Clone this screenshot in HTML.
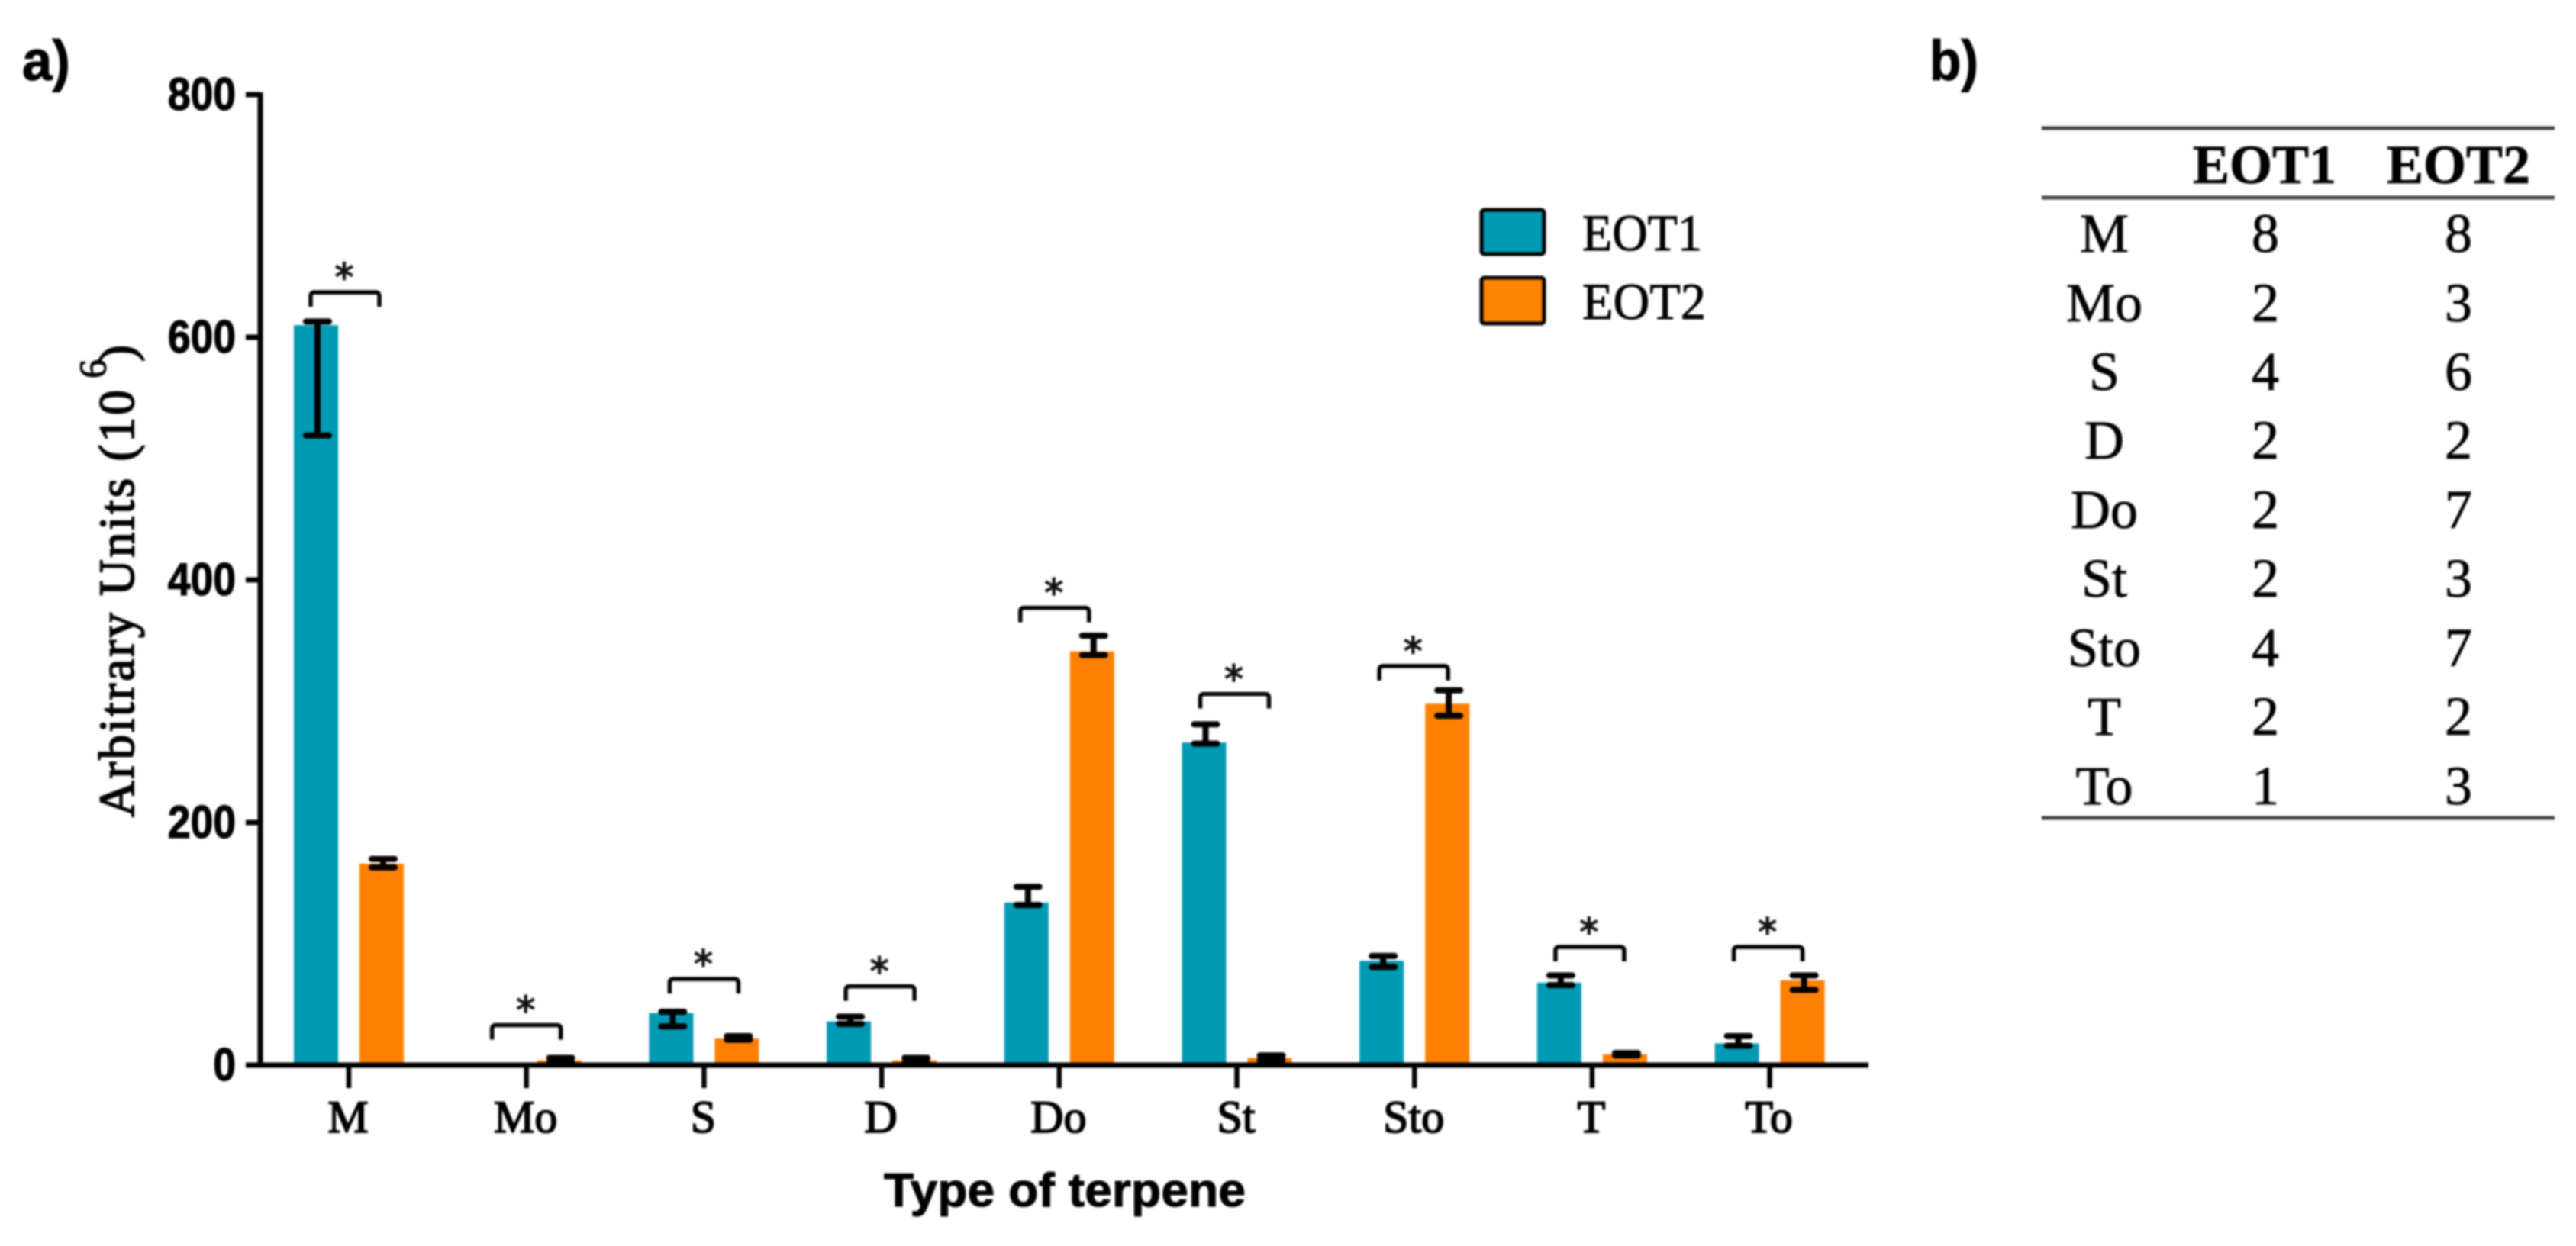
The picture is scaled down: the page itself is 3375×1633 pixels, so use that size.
<!DOCTYPE html>
<html lang="en">
<head>
<meta charset="utf-8">
<title>Terpene types by EOT</title>
<style>
html,body{margin:0;padding:0;background:#fff;}
body{width:3375px;height:1633px;overflow:hidden;}
svg{display:block;filter:blur(1.2px);}
.serif{font-family:"Liberation Serif",serif;fill:#000;}
.sans{font-family:"Liberation Sans",sans-serif;fill:#000;}
</style>
</head>
<body>
<svg id="chart" xmlns="http://www.w3.org/2000/svg" width="3375" height="1633" viewBox="0 0 3375 1633">
  <rect x="0" y="0" width="3375" height="1633" fill="#fff"/>
  <text class="sans" x="29" y="105" font-size="74" font-weight="700" stroke="#000" stroke-width="1" textLength="63" lengthAdjust="spacingAndGlyphs">a)</text>
  <text class="sans" x="2528" y="105" font-size="74" font-weight="700" stroke="#000" stroke-width="1" textLength="64" lengthAdjust="spacingAndGlyphs">b)</text>

  <g id="plot"></g>

  <g transform="translate(175,1071) rotate(-90)">
    <text class="serif" x="0" y="0" font-size="66" stroke="#000" stroke-width="1.8" textLength="560" lengthAdjust="spacing">Arbitrary Units (10</text>
    <text class="serif" x="575" y="-37" font-size="50" stroke="#000" stroke-width="1.2">6</text>
    <text class="serif" x="597" y="0" font-size="66" stroke="#000" stroke-width="1.8">)</text>
  </g>
  <text class="sans" x="1158" y="1581" font-size="62" font-weight="700" stroke="#000" stroke-width="1" textLength="474" lengthAdjust="spacingAndGlyphs">Type of terpene</text>

  <g>
    <g>
      <rect x="1941" y="275" width="82" height="58" rx="4" fill="#009ab5" stroke="#000" stroke-width="5"/>
      <text class="serif" x="2073" y="328" font-size="68" stroke="#000" stroke-width="1" textLength="157" lengthAdjust="spacingAndGlyphs">EOT1</text>
    </g>
    <g>
      <rect x="1941" y="364" width="82" height="60" rx="4" fill="#ff8400" stroke="#000" stroke-width="5"/>
      <text class="serif" x="2073" y="418" font-size="68" stroke="#000" stroke-width="1" textLength="162" lengthAdjust="spacingAndGlyphs">EOT2</text>
    </g>
  </g>

  <g id="table" class="serif" font-size="72" text-anchor="middle" stroke="#000" stroke-width="0.8">
    <line x1="2675" y1="168" x2="3347" y2="168" stroke="#444" stroke-width="5"/>
    <line x1="2675" y1="259" x2="3347" y2="259" stroke="#444" stroke-width="5"/>
    <line x1="2675" y1="1072" x2="3347" y2="1072" stroke="#444" stroke-width="5"/>
    <text x="2967" y="240" font-weight="700">EOT1</text>
    <text x="3221" y="240" font-weight="700">EOT2</text>
    <g><text x="2757" y="330">M</text><text x="2968" y="330">8</text><text x="3221" y="330">8</text></g>
    <g><text x="2757" y="421">Mo</text><text x="2968" y="421">2</text><text x="3221" y="421">3</text></g>
    <g><text x="2757" y="511">S</text><text x="2968" y="511">4</text><text x="3221" y="511">6</text></g>
    <g><text x="2757" y="601">D</text><text x="2968" y="601">2</text><text x="3221" y="601">2</text></g>
    <g><text x="2757" y="692">Do</text><text x="2968" y="692">2</text><text x="3221" y="692">7</text></g>
    <g><text x="2757" y="782">St</text><text x="2968" y="782">2</text><text x="3221" y="782">3</text></g>
    <g><text x="2757" y="873">Sto</text><text x="2968" y="873">4</text><text x="3221" y="873">7</text></g>
    <g><text x="2757" y="963">T</text><text x="2968" y="963">2</text><text x="3221" y="963">2</text></g>
    <g><text x="2757" y="1054">To</text><text x="2968" y="1054">1</text><text x="3221" y="1054">3</text></g>
  </g>
</svg>
<script>
const categories = ["M","Mo","S","D","Do","St","Sto","T","To"];
const eot1Values = [610,0,43,36,134,266,86,68,18];
const eot2Values = [166,4,22,4,341,6,298,9,70];
const eot1ErrHigh = [613,0,44,40,147,281,90,74,24];
const eot1ErrLow = [519,0,32,34,132,265,81,66,16];
const eot2ErrHigh = [170,6,24,6,354,8,309,10,74];
const eot2ErrLow = [163,2,21,2,338,4,288,8,62];
const bracketLevels = [637,33,71,65,377,306,329,97.5,97.5];
const yTickLabels = [0,200,400,600,800];

const NS = "http://www.w3.org/2000/svg";
const plot = document.getElementById("plot");

function xCenter(i){ return 457 + 232.7 * i; }
function yScale(v){ return 1396 - 1.59 * v; }

function make(tag, attrs, parent){
  const el = document.createElementNS(NS, tag);
  for (const k in attrs) el.setAttribute(k, attrs[k]);
  (parent || plot).appendChild(el);
  return el;
}

function drawBars(values, high, low, offset, color, key){
  values.forEach(function(v, i){
    const cx = xCenter(i) + offset;
    if (v > 0) {
      const bar = make("rect", {x: cx - 29, y: yScale(v), width: 58, height: yScale(0) - yScale(v), fill: color});
      
      
    }
    if (high[i] > low[i]) {
      const ex = cx + 2;
      const err = make("path", {
        d: "M" + ex + " " + yScale(high[i]) + "V" + yScale(low[i]) +
           "M" + (ex - 15) + " " + yScale(high[i]) + "H" + (ex + 15) +
           "M" + (ex - 15) + " " + yScale(low[i]) + "H" + (ex + 15),
        stroke: "#000", "stroke-width": 8, fill: "none", "stroke-linecap": "round"
      });
      
      
    }
  });
}

function drawBrackets(){
  const nudge = {M:-5, Mo:0, S:0, D:-2, Do:-6, St:-3, Sto:-1, T:-3, To:-2};
  bracketLevels.forEach(function(level, i){
    const c = xCenter(i) + nudge[categories[i]];
    const top = yScale(level);
    const br = make("path", {
      d: "M" + (c - 45) + " " + (top + 19) + "V" + (top + 5) + "Q" + (c - 45) + " " + top + " " + (c - 40) + " " + top +
         "H" + (c + 40) + "Q" + (c + 45) + " " + top + " " + (c + 45) + " " + (top + 5) + "V" + (top + 19),
      stroke: "#000", "stroke-width": 5.5, fill: "none"
    });
    
    
    const star = make("text", {x: c - 1, y: top - 2, "text-anchor": "middle", "font-size": 50, fill: "#111",
      stroke: "#111", "stroke-width": 1.5, "font-family": '"DejaVu Sans", sans-serif'});
    star.textContent = "*";
    
    
  });
}

function drawAxes(){
  const yAxis = make("line", {x1: 341, y1: yScale(800) - 3, x2: 341, y2: yScale(0) + 3, stroke: "#000", "stroke-width": 7});
  
  
  const xAxis = make("line", {x1: 322, y1: yScale(0), x2: 2448, y2: yScale(0), stroke: "#000", "stroke-width": 7});
  
  

  yTickLabels.forEach(function(t){
    const tick = make("line", {x1: 322, y1: yScale(t), x2: 341, y2: yScale(t), stroke: "#000", "stroke-width": 7});
    
    
    const label = make("text", {
      transform: "translate(309," + (yScale(t) + 20) + ") scale(0.89,1)",
      "text-anchor": "end", "font-size": 60, "font-weight": 700, class: "sans",
      stroke: "#000", "stroke-width": 1.2
    });
    label.textContent = t;
    
    
  });

  categories.forEach(function(c, i){
    const tick = make("line", {x1: xCenter(i), y1: yScale(0), x2: xCenter(i), y2: 1426, stroke: "#000", "stroke-width": 6.5});
    
    
    const label = make("text", {
      x: xCenter(i) - 1, y: 1484, "text-anchor": "middle", "font-size": 60, class: "serif",
      stroke: "#000", "stroke-width": 1.8
    });
    label.textContent = c;
    
    
  });
}

drawBars(eot1Values, eot1ErrHigh, eot1ErrLow, -43, "#009ab5", "eot1");
drawBars(eot2Values, eot2ErrHigh, eot2ErrLow, 43, "#ff8000", "eot2");
drawAxes();
drawBrackets();
</script>
</body>
</html>
